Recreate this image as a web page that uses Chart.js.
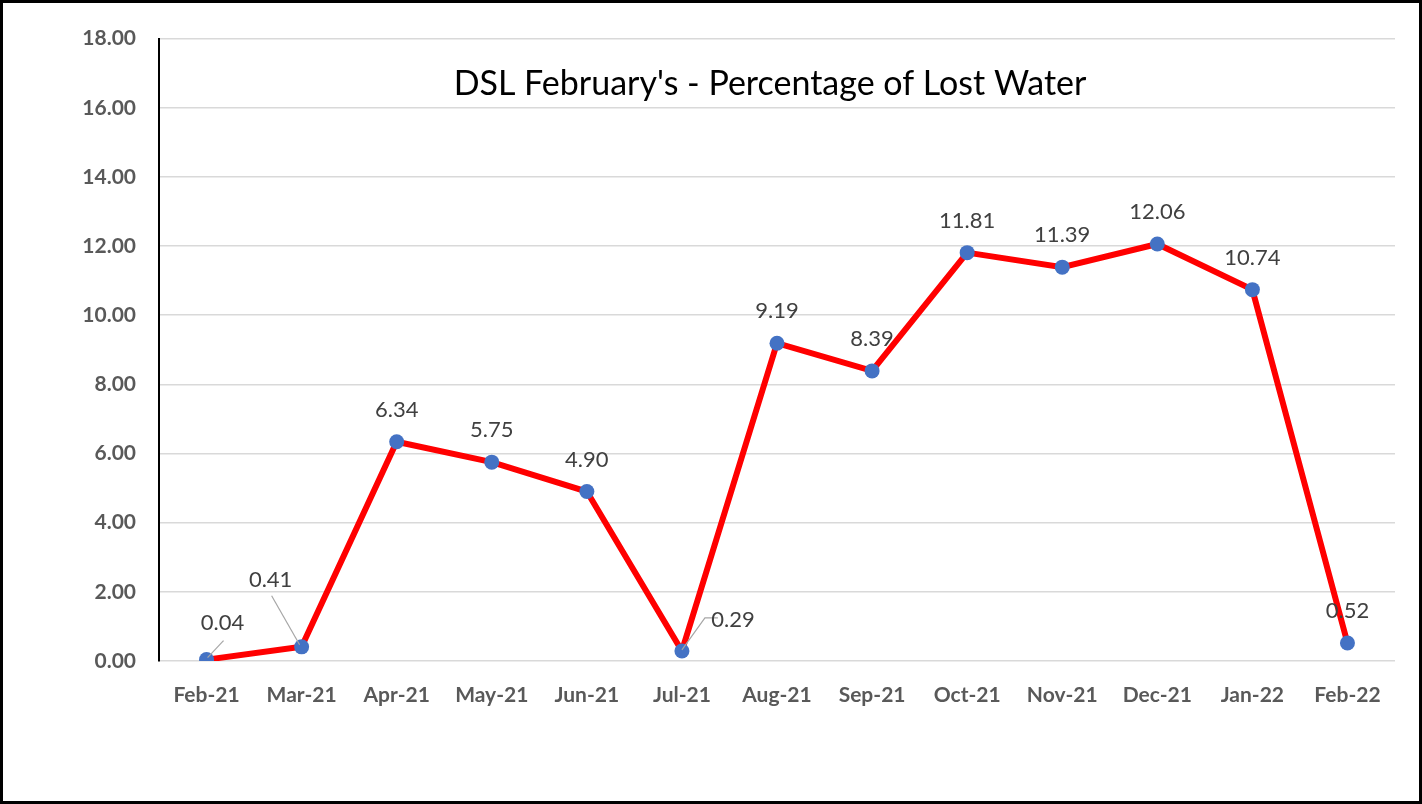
<!DOCTYPE html>
<html>
<head>
<meta charset="utf-8">
<script src="https://cdn.jsdelivr.net/npm/chart.js@4.4.1/dist/chart.umd.min.js"></script>
<style>
  html, body { margin: 0; padding: 0; background: #fff; }
  #frame { width: 1422px; height: 804px; box-sizing: border-box; border: 3px solid #000; }
  #chart { display: block; }
</style>
</head>
<body>
<div id="frame"><canvas id="chart" width="1416" height="798"></canvas></div>
<script>
// chart data
var months = ['Feb-21', 'Mar-21', 'Apr-21', 'May-21', 'Jun-21', 'Jul-21', 'Aug-21',
              'Sep-21', 'Oct-21', 'Nov-21', 'Dec-21', 'Jan-22', 'Feb-22'];
var lostWater = [0.04, 0.41, 6.34, 5.75, 4.90, 0.29, 9.19, 8.39, 11.81, 11.39, 12.06, 10.74, 0.52];
var chartTitle = "DSL February's - Percentage of Lost Water";

// label placement (pixel offsets from the point), leaders drawn for moved labels
var labelShift = {
    0: { dx: 16, dy: -37, leader: [[1, -2], [17, -19]] },
    1: { dx: -31, dy: -67, leader: [[-2, -2], [-30, -51]] },
    5: { dx: 51, dy: -31, leader: [[0, -1], [23, -33], [36, -33]] }
};

var FONT = 'Lato, "Open Sans", sans-serif';

var titlePlugin = {
    id: 'insideTitle',
    afterDraw: function (chart) {
        var ctx = chart.ctx;
        ctx.save();
        ctx.font = '34px ' + FONT;
        ctx.fillStyle = '#000';
        ctx.textAlign = 'center';
        ctx.textBaseline = 'middle';
        ctx.fillText(chartTitle, 767, 81);
        ctx.restore();
    }
};

var valueLabels = {
    id: 'valueLabels',
    afterDatasetsDraw: function (chart) {
        var ctx = chart.ctx;
        var meta = chart.getDatasetMeta(0);
        ctx.save();
        ctx.font = '22px ' + FONT;
        ctx.fillStyle = '#404040';
        ctx.textAlign = 'center';
        ctx.textBaseline = 'middle';
        meta.data.forEach(function (pt, i) {
            var s = labelShift[i] || { dx: 0, dy: -32 };
            if (s.leader) {
                ctx.beginPath();
                ctx.strokeStyle = '#a6a6a6';
                ctx.lineWidth = 1.2;
                s.leader.forEach(function (p, k) {
                    if (k === 0) {
                        ctx.moveTo(pt.x + p[0], pt.y + p[1]);
                    } else {
                        ctx.lineTo(pt.x + p[0], pt.y + p[1]);
                    }
                });
                ctx.stroke();
            }
            ctx.fillText(lostWater[i].toFixed(2), pt.x + s.dx, pt.y + s.dy);
        });
        ctx.restore();
    }
};

new Chart(document.getElementById('chart'), {
    type: 'line',
    data: {
        labels: months,
        datasets: [{
            data: lostWater,
            borderColor: '#ff0000',
            borderWidth: 6,
            pointBackgroundColor: '#4472c4',
            pointBorderColor: '#4472c4',
            pointRadius: 7.5,
            pointBorderWidth: 0,
            tension: 0
        }]
    },
    options: {
        responsive: false,
        animation: false,
        layout: { padding: { left: 0, right: 24, top: 35, bottom: 0 } },
        plugins: {
            legend: { display: false },
            title: { display: false },
            tooltip: { enabled: false }
        },
        scales: {
            x: {
                offset: true,
                grid: { display: false },
                border: { display: false },
                ticks: {
                    color: '#595959',
                    padding: 14,
                    maxRotation: 0,
                    font: { family: FONT, size: 21, weight: 'bold' }
                },
                afterFit: function (scale) { scale.height = 140; }
            },
            y: {
                min: 0,
                max: 18,
                ticks: {
                    stepSize: 2,
                    color: '#595959',
                    padding: 23,
                    font: { family: FONT, size: 21, weight: 'bold' },
                    callback: function (v) { return v.toFixed(2); }
                },
                grid: { color: '#d9d9d9', lineWidth: 1.5, drawTicks: false },
                border: { color: '#000', width: 2 },
                afterFit: function (scale) { scale.width = 156; }
            }
        }
    },
    plugins: [titlePlugin, valueLabels]
});
</script>
</body>
</html>
